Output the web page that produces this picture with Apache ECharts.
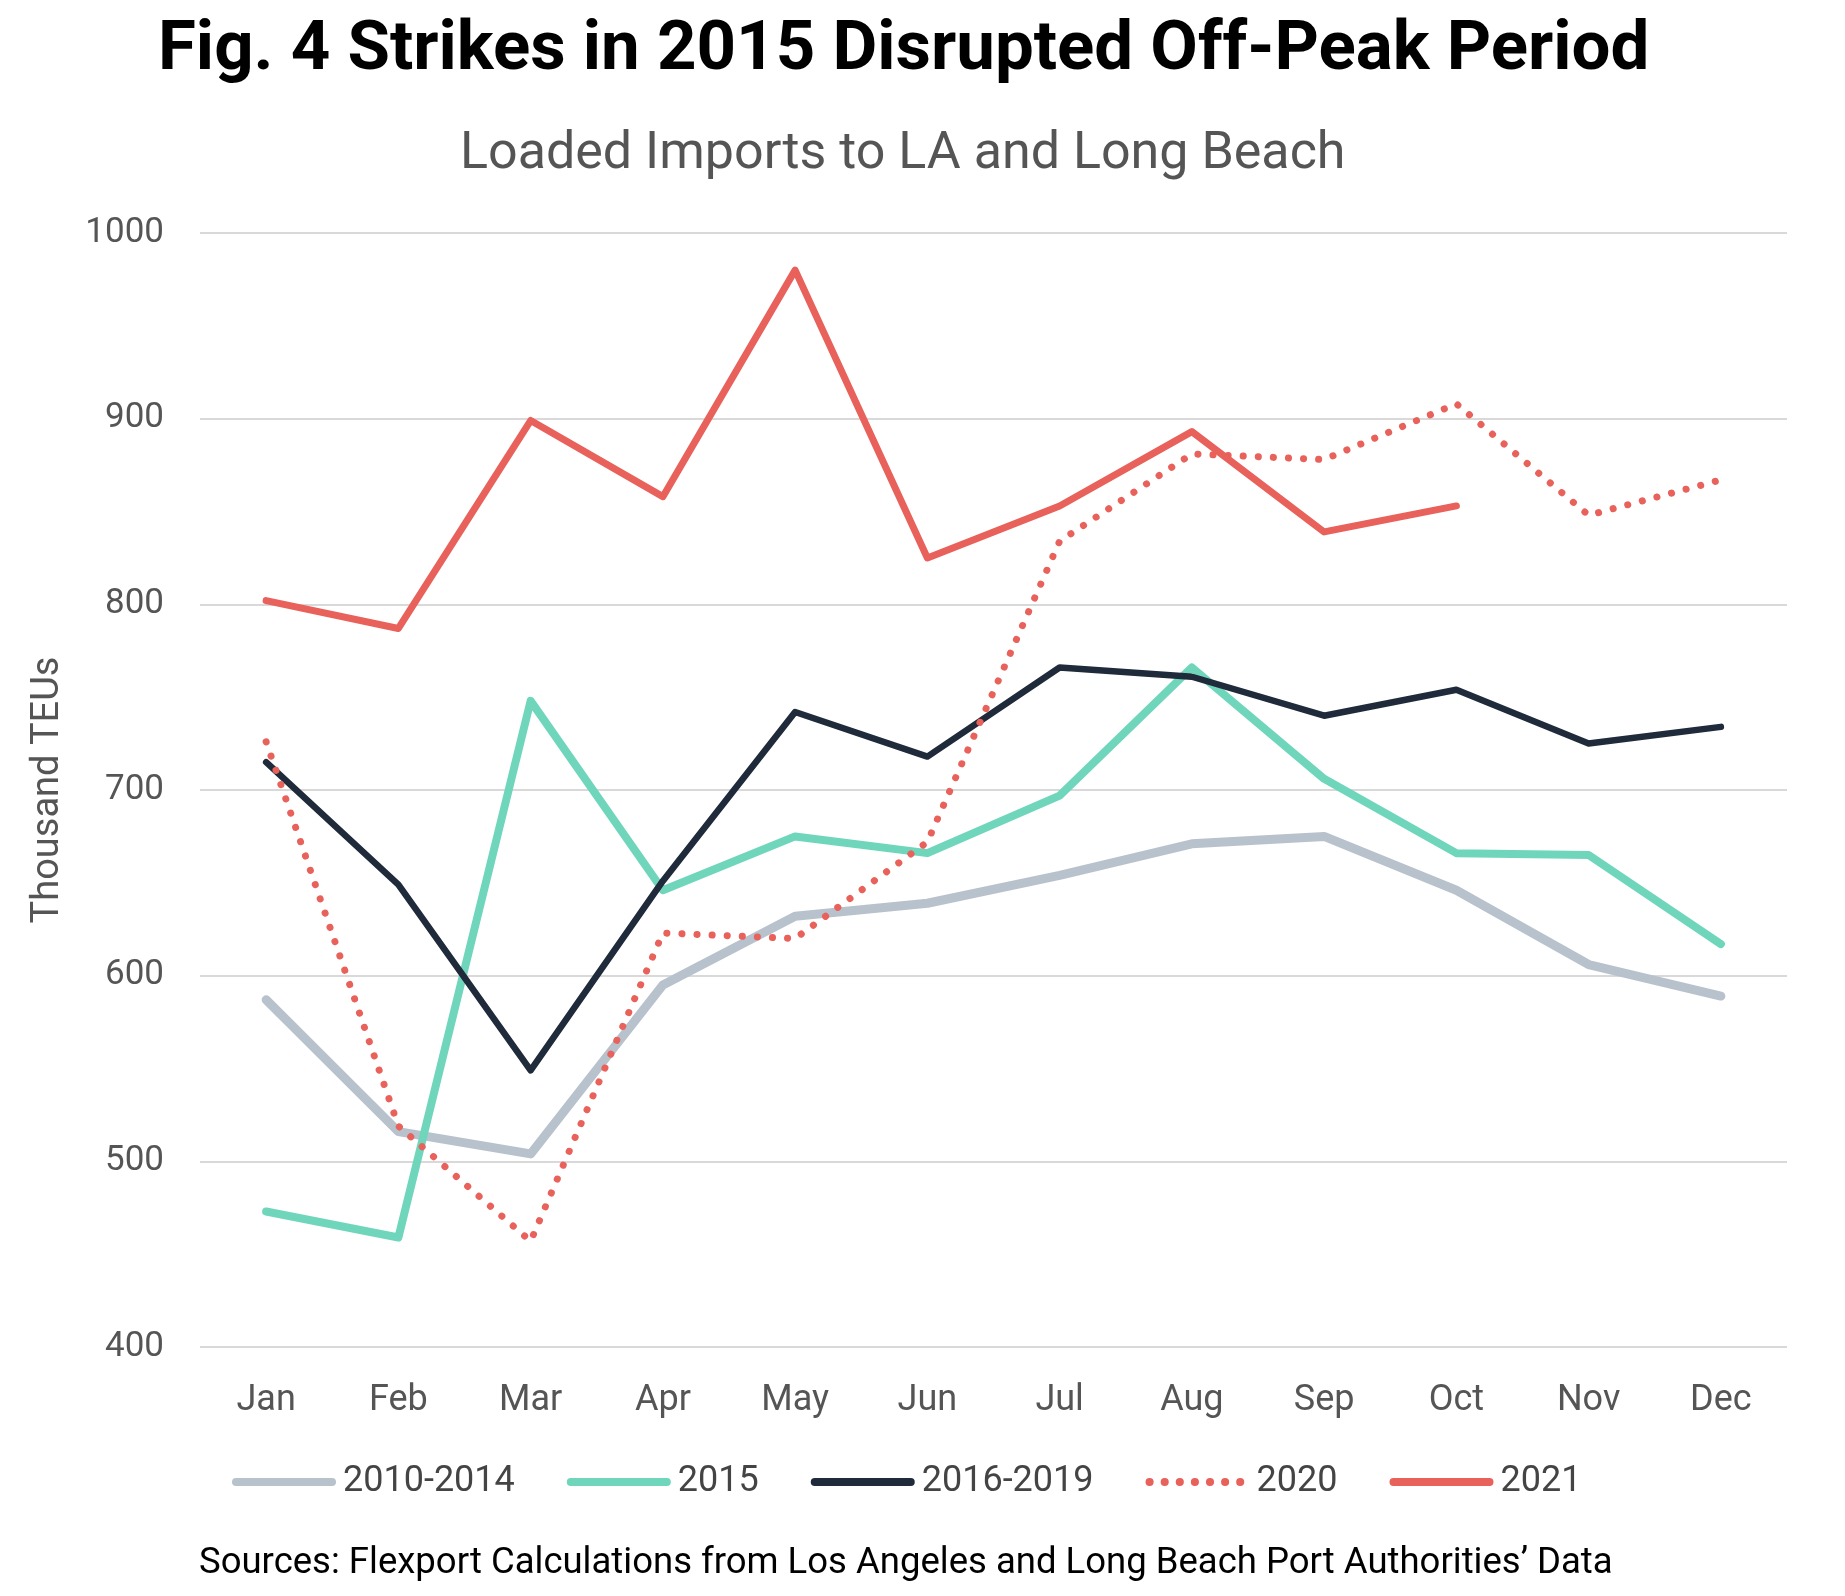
<!DOCTYPE html>
<html>
<head>
<meta charset="utf-8">
<script src="https://cdn.jsdelivr.net/npm/echarts@6/dist/echarts.min.js"></script>
<style>
html,body{margin:0;padding:0;background:#fff;}
#chart{width:1845px;height:1596px;}
</style>
</head>
<body>
<div id="chart"></div>
<script>
const months = ['Jan','Feb','Mar','Apr','May','Jun','Jul','Aug','Sep','Oct','Nov','Dec'];
const avg2010_2014 = [587, 516, 504, 595, 632, 639, 654, 671, 675, 646, 606, 589];
const y2015 = [473, 459, 748, 646, 675, 666, 697, 766, 706, 666, 665, 617];
const avg2016_2019 = [715, 649, 549, 651, 742, 718, 766, 761, 740, 754, 725, 734];
const y2020 = [726, 519, 457, 623, 620, 672, 834, 881, 878, 908, 848, 867];
const y2021 = [802, 787, 899, 858, 980, 825, 853, 893, 839, 853];
const yTicks = [400, 500, 600, 700, 800, 900, 1000];

const FONT = 'Roboto';
const chart = echarts.init(document.getElementById('chart'));

function lineSeries(name, data, color, width, type, z) {
  return {
    name: name, type: 'line', data: data, showSymbol: false, symbol: 'none',
    z: z,
    lineStyle: { color: color, width: width, type: type || 'solid', cap: 'round', join: 'round' },
    itemStyle: { color: color }
  };
}

chart.setOption({
  backgroundColor: '#ffffff',
  animation: false,
  textStyle: { fontFamily: FONT },
  title: [
    { text: 'Fig. 4 Strikes in 2015 Disrupted Off-Peak Period', left: 153, top: 12,
      textStyle: { fontFamily: FONT, fontSize: 69, fontWeight: 'bold', color: '#000' } },
    { text: 'Loaded Imports to LA and Long Beach', left: 455, top: 124,
      textStyle: { fontFamily: FONT, fontSize: 52, fontWeight: 'normal', color: '#555' } },
    { text: 'Sources: Flexport Calculations from Los Angeles and Long Beach Port Authorities\u2019 Data', left: 194, top: 1540,
      textStyle: { fontFamily: FONT, fontSize: 36.5, fontWeight: 'normal', color: '#000' } }
  ],
  grid: { left: 200, right: 58, top: 233, bottom: 249, containLabel: false },
  legend: {
    bottom: 91, left: 227, itemWidth: 96, itemHeight: 16, itemGap: 52,
    itemStyle: { opacity: 0, borderWidth: 0 },
    lineStyle: { width: 8, cap: 'round' },
    textStyle: { fontFamily: FONT, fontSize: 36, color: '#444', padding: [0,0,0,6] },
    data: ['2010-2014', '2015', '2016-2019', '2020', '2021']
  },
  xAxis: {
    type: 'category', data: months, boundaryGap: true,
    axisLine: { show: false }, axisTick: { show: false },
    axisLabel: { fontFamily: FONT, fontSize: 36, color: '#555', margin: 36 }
  },
  yAxis: {
    type: 'value', min: yTicks[0], max: yTicks[yTicks.length - 1], interval: 100,
    name: 'Thousand TEUs', nameLocation: 'middle', nameGap: 133, nameRotate: 90,
    nameTextStyle: { fontFamily: FONT, fontSize: 38, color: '#555' },
    axisLine: { show: false }, axisTick: { show: false },
    axisLabel: { fontFamily: FONT, fontSize: 35, color: '#555', margin: 36, formatter: function (v) { return String(v); } },
    splitLine: { lineStyle: { color: '#d9d9d9', width: 2 } }
  },
  series: [
    lineSeries('2010-2014', avg2010_2014, '#b8c2cc', 9, 'solid', 1),
    lineSeries('2015', y2015, '#6fd6bc', 8, 'solid', 2),
    lineSeries('2016-2019', avg2016_2019, '#1f2a3a', 6.5, 'solid', 3),
    lineSeries('2020', y2020, '#e8615a', 7, [0.1, 15], 4),
    lineSeries('2021', y2021, '#e8615a', 7, 'solid', 5)
  ]
});
</script>
</body>
</html>
